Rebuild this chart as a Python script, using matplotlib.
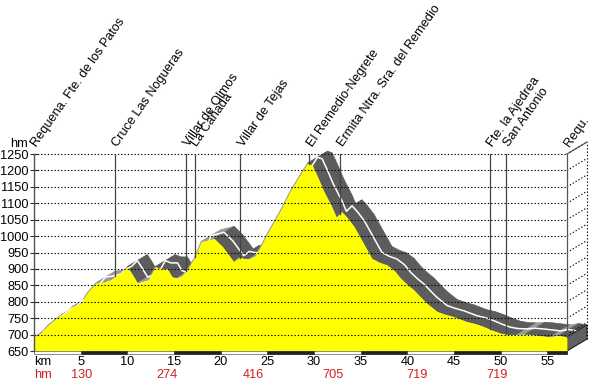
import matplotlib
matplotlib.use("Agg")
import matplotlib.pyplot as plt
from matplotlib.patches import Polygon, Rectangle
import numpy as np

plt.rcParams['font.family'] = ['Liberation Sans', 'DejaVu Sans']

# ---- data ----
km = [0, 0.7, 1.5, 2.2, 2.9, 3.5, 4.1, 5.0, 5.7, 6.6, 7.4, 8.2, 8.8, 9.4, 10.0,
      10.5, 11.1, 11.7, 12.2, 13.0, 13.6, 14.3, 14.8, 15.3, 15.7, 16.4, 17.2,
      17.9, 18.6, 19.3, 20.2, 20.8, 21.4, 22.0, 22.5, 23.0, 23.6, 24.3, 25.0,
      26.4, 27.5, 28.6, 29.3, 29.8, 30.4, 31.0, 31.9, 32.4, 33.0, 33.6, 34.3,
      35.3, 36.2, 37.0, 37.8, 38.6, 39.3, 40.0, 40.7, 41.4, 42.1, 43.2, 44.0,
      45.0, 46.4, 47.3, 48.2, 49.1, 50.0, 50.8, 51.7, 52.6, 53.5, 54.4, 55.3,
      56.2, 57.1]
elev = [693, 704, 729, 745, 760, 768, 785, 795, 827, 857, 860, 866, 881, 890, 907,
        885, 857, 862, 866, 907, 900, 900, 876, 872, 876, 897, 935,
        983, 988, 993, 968, 945, 922, 935, 932, 930, 937, 970, 1008,
        1079, 1140, 1191, 1222, 1217, 1180, 1140, 1090, 1057, 1074, 1055, 1029,
        978, 932, 920, 912, 895, 871, 852, 836, 815, 795, 770, 762,
        754, 739, 733, 724, 713, 704, 700, 699, 701, 699, 696, 693,
        697, 693]

wp_names = ["Requena. Fte. de los Patos", "Cruce Las Nogueras", "Villar de Olmos",
            "La Cañada", "Villar de Tejas", "El Remedio-Negrete",
            "Ermita Ntra. Sra. del Remedio", "Fte. la Ajedrea", "San Antonio", "Requ."]
wp_km = [0, 8.7, 16.3, 17.2, 22.1, 29.5, 32.8, 48.8, 50.6, 57.1]

km_ticks = [5, 10, 15, 20, 25, 30, 35, 40, 45, 50, 55]
climb_km = [5.1, 14.2, 23.5, 32.0, 41.0, 49.6]
climb_vals = [130, 274, 416, 705, 719, 719]

y_ticks = list(range(650, 1251, 50))

# ---- figure ----
W, H = 600, 380
fig = plt.figure(figsize=(6, 3.8), dpi=100)
x0, x1, ytop, ybot = 34, 567, 154, 351
ax = fig.add_axes([x0 / W, (H - ybot) / H, (x1 - x0) / W, (ybot - ytop) / H])
XMAX = 57.1
ax.set_xlim(0, XMAX)
ax.set_ylim(650, 1250)
for s in ax.spines.values():
    s.set_visible(False)

pxkm = (x1 - x0) / XMAX
pxm = (ybot - ytop) / 600.0
DX = 20 / pxkm
DY = 12 / pxm

kmA = np.array(km, float)
elA = np.array(elev, float)

# ribbon (3D road band)
for i in range(len(kmA) - 1):
    xa, xb = kmA[i], kmA[i + 1]
    ya, yb = elA[i], elA[i + 1]
    col = '#9a9a9a' if yb > ya else '#5c5c5c'
    poly = Polygon([(xa, ya), (xb, yb), (xb + DX, yb + DY), (xa + DX, ya + DY)],
                   closed=True, facecolor=col, edgecolor=col, lw=0.5,
                   clip_on=False, zorder=2)
    ax.add_patch(poly)
ax.plot(kmA + DX / 2, elA + DY / 2, color='white', lw=1.1, zorder=3, clip_on=False)

# right side face
side = Polygon([(XMAX, 650), (XMAX, elA[-1]), (XMAX + DX, elA[-1] + DY), (XMAX + DX, 650 + DY)],
               closed=True, facecolor='#606060', edgecolor='#222222', lw=0.8,
               clip_on=False, zorder=4)
ax.add_patch(side)

# yellow profile
ax.fill_between(kmA, 650, elA, color='#ffff00', lw=0, zorder=5)

# grid
dash = (0, (1.2, 1.8))
for y in y_ticks[1:]:
    ax.plot([0, XMAX], [y, y], color='black', lw=0.8, ls=dash, zorder=6, clip_on=False)
    ax.plot([XMAX, XMAX + DX], [y, y + DY], color='black', lw=0.8, ls=dash,
            zorder=6, clip_on=False)
ax.plot([XMAX + DX, XMAX + DX], [650 + DY, 1250 + DY], color='black', lw=0.8,
        ls=dash, zorder=6, clip_on=False)
ax.plot([XMAX, XMAX + DX], [1250, 1250 + DY], color='#555555', lw=0.9,
        zorder=6, clip_on=False)

# left axis line
ax.plot([0, 0], [650, 1250], color='#555555', lw=1.0, zorder=7, clip_on=False)

# waypoint lines and labels
for name, k in zip(wp_names, wp_km):
    e = np.interp(k, kmA, elA)
    if 0 < k < XMAX:
        ax.plot([k, k], [e, 1250], color='#444444', lw=0.9, zorder=7)
    elif k >= XMAX:
        ax.plot([k, k], [e, 1250], color='#555555', lw=0.9, zorder=7, clip_on=False)
    ax.annotate(name, xy=(k, 1250), xytext=(2, 5), textcoords='offset points',
                rotation=55, rotation_mode='anchor', ha='left', va='baseline',
                fontsize=9.2, color='black', annotation_clip=False)

# bottom strip
ax.add_patch(Rectangle((0, 641), XMAX, 9, facecolor='white', edgecolor='#777777',
                       lw=0.6, clip_on=False, zorder=6))
k0 = 5
while k0 < XMAX:
    ax.add_patch(Rectangle((k0, 641), min(5, XMAX - k0), 9, facecolor='#222222',
                           edgecolor='#222222', lw=0.4, clip_on=False, zorder=6))
    k0 += 10

# y ticks
ax.set_yticks(y_ticks)
ax.set_yticklabels([str(v) for v in y_ticks], fontsize=9.2)
ax.tick_params(axis='y', direction='inout', length=6, width=0.8, color='#333333', pad=1)
ax.set_xticks([])
ax.text(-0.7, 1262, 'hm', ha='right', va='bottom', fontsize=9.2)

# bottom labels
def bottom_text(k, s, dy, color='black', ha='center'):
    ax.annotate(s, xy=(k, 650), xytext=(0, dy), textcoords='offset points',
                ha=ha, va='center', fontsize=9.2, color=color, annotation_clip=False)

bottom_text(0, 'km', -8, ha='left')
for k in km_ticks:
    bottom_text(k, str(k), -8)
bottom_text(0, 'hm', -17.2, color='#cc2222', ha='left')
for k, v in zip(climb_km, climb_vals):
    bottom_text(k, str(v), -17.2, color='#cc2222')

fig.savefig('out.png', dpi=100)
